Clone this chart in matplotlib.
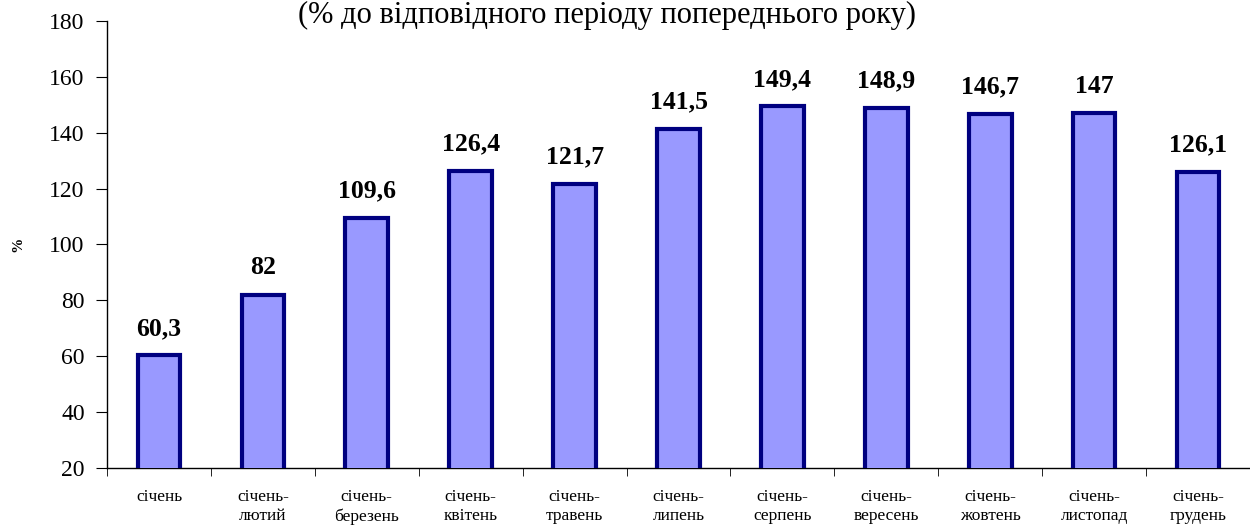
import numpy as np
import matplotlib
matplotlib.use('Agg')
import matplotlib.pyplot as plt

# Дані
periods = ['січень', 'січень-\nлютий', 'січень-\nберезень', 'січень-\nквітень',
           'січень-\nтравень', 'січень-\nлипень', 'січень-\nсерпень',
           'січень-\nвересень', 'січень-\nжовтень', 'січень-\nлистопад',
           'січень-\nгрудень']
values = [60.3, 82, 109.6, 126.4, 121.7, 141.5, 149.4, 148.9, 146.7, 147, 126.1]
value_labels = ['60,3', '82', '109,6', '126,4', '121,7', '141,5', '149,4',
                '148,9', '146,7', '147', '126,1']
yticks = [20, 40, 60, 80, 100, 120, 140, 160, 180]

plt.rcParams['font.family'] = ['Liberation Serif', 'DejaVu Serif']

fig = plt.figure(figsize=(12.5, 5.31), dpi=100)
ax = fig.add_axes([0.0856, 0.1186, 0.9144, 0.842])

x = np.arange(len(values))
ax.bar(x, values, width=0.41, bottom=0, color='#9999FF',
       edgecolor='#000080', linewidth=3, zorder=3)

for xi, v, lab in zip(x, values, value_labels):
    ax.annotate(lab, (xi, v), xytext=(0, 11), textcoords='offset points',
                ha='center', va='bottom', fontsize=18.5, fontweight='bold')

ax.set_xlim(-0.5, len(values) - 0.5)
ax.set_ylim(20, 180)
ax.set_yticks(yticks)
ax.set_yticklabels([str(t) for t in yticks], fontsize=17)

ax.set_xticks(x)
ax.set_xticklabels(periods, fontsize=12.5, linespacing=1.3)
ax.set_xticks(np.arange(len(values) + 1) - 0.5, minor=True)
ax.tick_params(axis='x', which='major', length=0, pad=15)
ax.tick_params(axis='x', which='minor', length=6, direction='out')
ax.tick_params(axis='y', length=8, direction='out', pad=8)

for s in ['top', 'right']:
    ax.spines[s].set_visible(False)
ax.spines['left'].set_linewidth(1)
ax.spines['bottom'].set_linewidth(1)

ax.set_ylabel('%', fontsize=11, fontweight='bold', labelpad=18)

fig.text(0.486, 0.999, '(% до відповідного періоду попереднього року)',
         ha='center', va='top', fontsize=22)

fig.savefig('out.png', dpi=100)
